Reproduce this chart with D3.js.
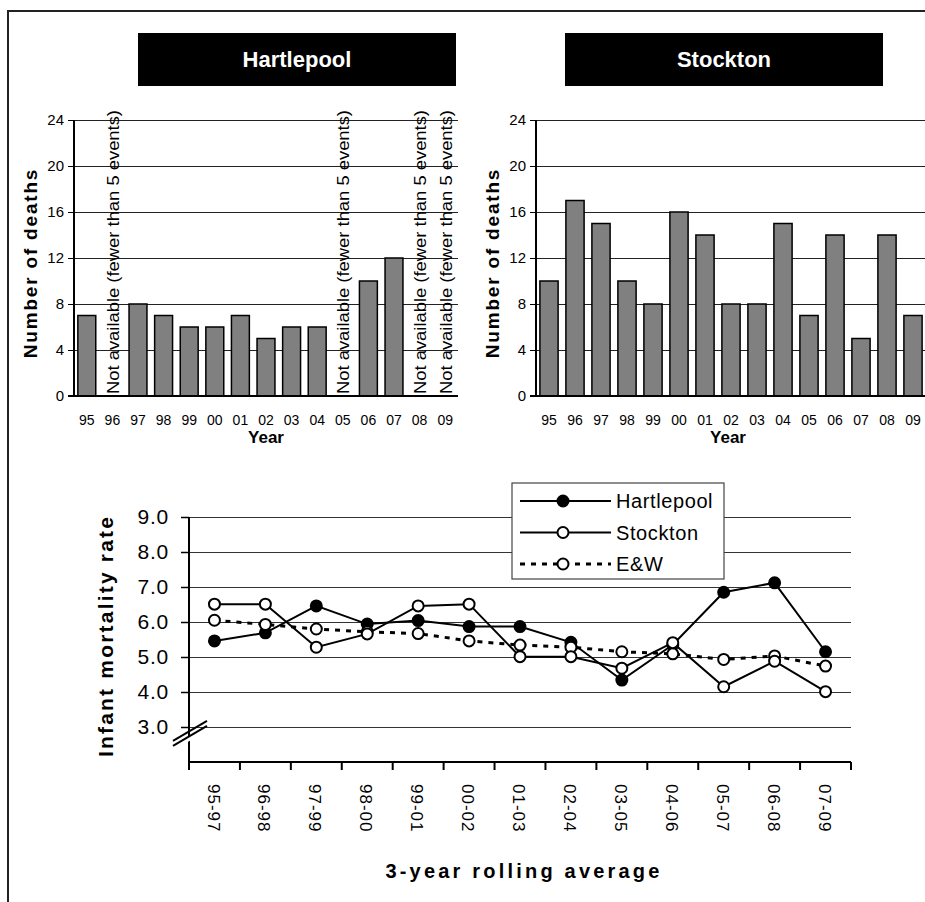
<!DOCTYPE html>
<html><head><meta charset="utf-8">
<script src="https://cdn.jsdelivr.net/npm/d3@7"></script>
<style>
html,body{margin:0;padding:0;background:#fff;}
svg{display:block;font-family:"Liberation Sans",Arial,sans-serif;}
</style></head>
<body>
<svg id="c" width="925" height="902"></svg>
<script>
// ---- data ----
const years = ["95","96","97","98","99","00","01","02","03","04","05","06","07","08","09"];
const hartlepoolDeaths = [7,null,8,7,6,6,7,5,6,6,null,10,12,null,null];
const stocktonDeaths = [10,17,15,10,8,16,14,8,8,15,7,14,5,14,7];
const deathTicks = [0,4,8,12,16,20,24];
const naLabel = "Not available (fewer than 5 events)";

const periods = ["95-97","96-98","97-99","98-00","99-01","00-02","01-03","02-04","03-05","04-06","05-07","06-08","07-09"];
const hartlepoolRate = [5.46,5.69,6.46,5.94,6.04,5.87,5.87,5.42,4.34,5.35,6.85,7.12,5.15];
const stocktonRate   = [6.51,6.51,5.28,5.66,6.46,6.51,5.01,5.01,4.68,5.41,4.15,4.88,4.01];
const ewRate         = [6.05,5.93,5.80,5.72,5.67,5.46,5.34,5.28,5.15,5.09,4.93,5.03,4.74];
const rateTicks = [3,4,5,6,7,8,9];
const seriesNames = ["Hartlepool","Stockton","E&W"];

const svg = d3.select("#c");

// outer border
svg.append("rect").attr("x",8).attr("y",11).attr("width",930).attr("height",900)
  .attr("fill","none").attr("stroke","#222").attr("stroke-width",2);

// ---- bar charts ----
function barChart(opts){
  const g = svg.append("g");
  const x = d3.scaleBand().domain(years).range([opts.x0,opts.x1]).paddingInner(0.3).paddingOuter(0.15);
  const y = d3.scaleLinear().domain([0,24]).range([396,120]);
  // title box
  g.append("rect").attr("x",opts.tx).attr("y",33).attr("width",318).attr("height",53).attr("fill","#000");
  g.append("text").attr("x",opts.tx+159).attr("y",67).attr("text-anchor","middle")
    .attr("fill","#fff").attr("font-size",22).attr("font-weight","bold").text(opts.title);
  // gridlines
  g.selectAll(".grid").data(deathTicks.filter(d=>d>0)).join("line")
    .attr("x1",opts.x0).attr("x2",opts.x1).attr("y1",d=>Math.round(y(d))+0.5).attr("y2",d=>Math.round(y(d))+0.5)
    .attr("stroke","#222").attr("stroke-width",1);
  // bars
  const vals = opts.values.map((v,i)=>({k:years[i],v}));
  g.selectAll(".bar").data(vals.filter(d=>d.v!==null)).join("rect")
    .attr("x",d=>x(d.k)).attr("width",x.bandwidth())
    .attr("y",d=>y(d.v)).attr("height",d=>y(0)-y(d.v))
    .attr("fill","#808080").attr("stroke","#000").attr("stroke-width",1.5);
  // NA labels
  g.selectAll(".na").data(vals.filter(d=>d.v===null)).join("text")
    .attr("transform",d=>`translate(${x(d.k)+x.bandwidth()/2+1},394) rotate(-90)`)
    .attr("dy","0.35em").attr("font-size",16).attr("textLength",284).attr("lengthAdjust","spacingAndGlyphs")
    .attr("fill","#000").text(naLabel);
  // y axis
  const ya = d3.axisLeft(y).tickValues(deathTicks).tickSize(6).tickPadding(4);
  const yg = g.append("g").attr("transform",`translate(${opts.x0},0)`).call(ya);
  yg.select(".domain").attr("stroke","#000").attr("stroke-width",2).attr("d",`M0,${y(24)}V${y(0)}`);
  yg.selectAll(".tick line").attr("stroke","#000");
  yg.selectAll(".tick text").attr("font-size",15).attr("fill","#000");
  // x baseline
  g.append("line").attr("x1",opts.x0-6).attr("x2",opts.x1).attr("y1",y(0)).attr("y2",y(0))
    .attr("stroke","#000").attr("stroke-width",2);
  // x labels
  const xa = d3.axisBottom(x).tickSize(0).tickPadding(19);
  const xg = g.append("g").attr("transform",`translate(0,${y(0)})`).call(xa);
  xg.select(".domain").remove();
  xg.selectAll(".tick text").attr("font-size",14).attr("fill","#000");
  // axis titles
  g.append("text").attr("x",opts.x0+192).attr("y",443).attr("text-anchor","middle")
    .attr("font-size",17).attr("font-weight","bold").text("Year");
  g.append("text").attr("transform",`translate(${opts.x0-37},263) rotate(-90)`).attr("text-anchor","middle")
    .attr("font-size",19).attr("font-weight","bold").attr("letter-spacing",1.8).text("Number of deaths");
}
barChart({x0:74,x1:458,tx:138,title:"Hartlepool",values:hartlepoolDeaths});
barChart({x0:536,x1:926,tx:565,title:"Stockton",values:stocktonDeaths});

// ---- line chart ----
const lx = d3.scaleBand().domain(periods).range([189,851]);
const ly = d3.scaleLinear().domain([2,9]).range([762,517]);
const lg = svg.append("g");
lg.selectAll(".lgrid").data(rateTicks).join("line")
  .attr("x1",189).attr("x2",851).attr("y1",d=>Math.round(ly(d))+0.5).attr("y2",d=>Math.round(ly(d))+0.5)
  .attr("stroke","#333").attr("stroke-width",1);
// y axis
const lya = d3.axisLeft(ly).tickValues(rateTicks).tickSize(8).tickPadding(12).tickFormat(d3.format(".1f"));
const lyg = lg.append("g").attr("transform","translate(189,0)").call(lya);
lyg.select(".domain").attr("stroke","#000").attr("stroke-width",2).attr("d",`M0,${ly(9)}V${ly(2)}`);
lyg.selectAll(".tick line").attr("stroke","#000").attr("stroke-width",1.5);
lyg.selectAll(".tick text").attr("font-size",21).attr("letter-spacing",0.8).attr("fill","#000");
// x axis
const lxa = d3.axisBottom(lx).tickSize(0).tickPadding(0);
const lxg = lg.append("g").attr("transform",`translate(0,${ly(2)})`).call(lxa);
lxg.select(".domain").attr("stroke","#000").attr("stroke-width",2).attr("d","M189,0H851");
lxg.selectAll(".tick line").remove();
lxg.selectAll(".tick text").attr("font-size",17).attr("fill","#000").attr("letter-spacing",1)
  .attr("text-anchor","start").attr("transform","translate(-1,22) rotate(90)").attr("dy","0.35em").attr("y",0);
// band boundary ticks
lg.selectAll(".bt").data(periods.concat(["end"])).join("line")
  .attr("x1",(d,i)=>i<periods.length?lx(d):lx.range()[1]).attr("x2",(d,i)=>i<periods.length?lx(d):lx.range()[1])
  .attr("y1",ly(2)).attr("y2",ly(2)+8).attr("stroke","#000").attr("stroke-width",2);
// axis break
const by = ly(2.72);
lg.append("polygon").attr("points",`${178},${by+6} ${200},${by-7} ${200},${by-2} ${178},${by+11}`).attr("fill","#fff");
[0,5].forEach(o=>{
  lg.append("line").attr("x1",173).attr("y1",by+9+o-5).attr("x2",207).attr("y2",by-11+o-5)
    .attr("stroke","#000").attr("stroke-width",2);
});
// titles
lg.append("text").attr("transform","translate(106,636) rotate(-90)").attr("text-anchor","middle")
  .attr("dy","0.35em").attr("font-size",21).attr("font-weight","bold").attr("letter-spacing",2.2).text("Infant mortality rate");
lg.append("text").attr("x",524).attr("y",878).attr("text-anchor","middle")
  .attr("font-size",20).attr("font-weight","bold").attr("letter-spacing",3.2).text("3-year rolling average");

// series
const cx = d=>lx(d)+lx.bandwidth()/2;
const series = [
  {name:"Hartlepool",vals:hartlepoolRate,fill:"#000",dash:null},
  {name:"E&W",vals:ewRate,fill:"#fff",dash:"5,6"},
  {name:"Stockton",vals:stocktonRate,fill:"#fff",dash:null}
];
const line = d3.line().x((d,i)=>cx(periods[i])).y(d=>ly(d));
series.forEach(s=>{
  lg.append("path").attr("d",line(s.vals)).attr("fill","none").attr("stroke","#000")
    .attr("stroke-width",s.dash?3:2).attr("stroke-dasharray",s.dash);
});
series.forEach(s=>{
  lg.selectAll(null).data(s.vals).join("circle")
    .attr("cx",(d,i)=>cx(periods[i])).attr("cy",d=>ly(d)).attr("r",5.5)
    .attr("fill",s.fill).attr("stroke","#000").attr("stroke-width",2);
});

// legend
const leg = svg.append("g");
leg.append("rect").attr("x",512).attr("y",483).attr("width",212).attr("height",96)
  .attr("fill","#fff").attr("stroke","#444").attr("stroke-width",1.2);
const legItems = seriesNames.map((n,i)=>({name:n,fill:i===0?"#000":"#fff",dash:i===2?"5,6":null}));
legItems.forEach((it,i)=>{
  const yy = 501 + i*31.5;
  leg.append("line").attr("x1",520).attr("x2",611).attr("y1",yy).attr("y2",yy)
    .attr("stroke","#000").attr("stroke-width",it.dash?3:2).attr("stroke-dasharray",it.dash);
  leg.append("circle").attr("cx",563).attr("cy",yy).attr("r",5.5).attr("fill",it.fill).attr("stroke","#000").attr("stroke-width",2);
  leg.append("text").attr("x",616).attr("y",yy).attr("dy","0.36em").attr("font-size",20).attr("letter-spacing",0.6).text(it.name);
});
</script>
</body></html>
